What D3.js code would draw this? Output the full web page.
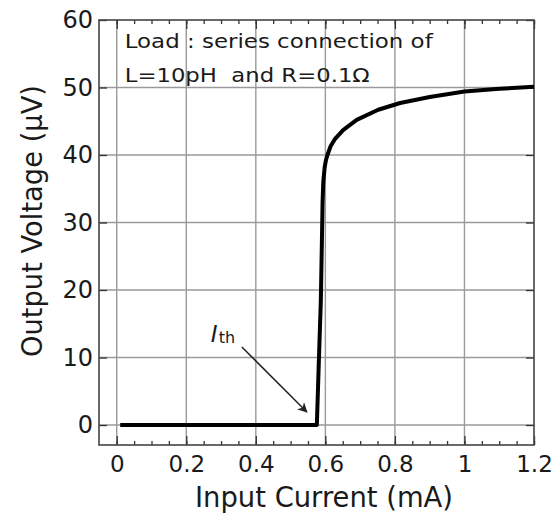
<!DOCTYPE html>
<html>
<head>
<meta charset="utf-8">
<script src="https://cdn.jsdelivr.net/npm/d3@7"></script>
<style>
  html, body { margin: 0; padding: 0; background: #fff; }
  svg { display: block; }
  text { font-family: "DejaVu Sans", "Noto Sans", sans-serif; fill: #1a1a1a; }
</style>
</head>
<body>
<svg id="chart" width="556" height="520"></svg>
<script>
// Measured output voltage vs. input current
const inputCurrent = [0.01, 0.1, 0.2, 0.3, 0.4, 0.5, 0.5755, 0.581, 0.587, 0.592, 0.594, 0.598, 0.602, 0.606, 0.615, 0.628, 0.651, 0.69, 0.752, 0.815, 0.9, 1.0, 1.1, 1.2];
const outputVoltage = [0, 0, 0, 0, 0, 0, 0, 9, 18.5, 33, 36, 38.2, 39.3, 40, 41.3, 42.4, 43.7, 45.2, 46.7, 47.7, 48.6, 49.4, 49.8, 50.1];

const xTicks = [0, 0.2, 0.4, 0.6, 0.8, 1, 1.2];
const xTickLabels = ["0", "0.2", "0.4", "0.6", "0.8", "1", "1.2"];
const yTicks = [0, 10, 20, 30, 40, 50, 60];
const xMinorTicks = d3.range(0, 1.2001, 0.05);

const noteLines = ["Load : series connection of", "L=10pH  and R=0.1\u03A9"];
const thresholdCurrent = 0.5755;

const svg = d3.select("#chart");
const margin = { left: 99, top: 20, right: 22, bottom: 75 };
const W = 556, H = 520;
const pw = W - margin.left - margin.right;
const ph = H - margin.top - margin.bottom;

const x = d3.scaleLinear().domain([-0.051, 1.2]).range([margin.left, margin.left + pw]);
const y = d3.scaleLinear().domain([-2.96, 60]).range([margin.top + ph, margin.top]);

// grid
const grid = svg.append("g").attr("stroke", "#9a9a9a").attr("stroke-width", 1.4);
grid.selectAll("line.v").data(xTicks.filter(d => d < 1.2)).join("line")
  .attr("x1", d => x(d)).attr("x2", d => x(d))
  .attr("y1", margin.top).attr("y2", margin.top + ph);
grid.selectAll("line.h").data(yTicks.filter(d => d < 60)).join("line")
  .attr("y1", d => y(d)).attr("y2", d => y(d))
  .attr("x1", margin.left).attr("x2", margin.left + pw);

// axes with inward ticks
function styleAxis(g) {
  g.select(".domain").remove();
  g.selectAll(".tick line").attr("stroke", "#333").attr("stroke-width", 1.3);
}
const bottomY = margin.top + ph;
svg.append("g").attr("transform", `translate(0,${bottomY})`)
  .call(d3.axisBottom(x).tickValues(xMinorTicks).tickSize(-4).tickFormat(""))
  .call(styleAxis);
svg.append("g").attr("transform", `translate(0,${bottomY})`)
  .call(d3.axisBottom(x).tickValues(xTicks).tickSize(-9).tickPadding(11)
    .tickFormat((d, i) => xTickLabels[i]))
  .call(styleAxis)
  .call(g => g.selectAll("text").attr("font-size", 23).attr("fill", "#1a1a1a"));
svg.append("g").attr("transform", `translate(0,${margin.top})`)
  .call(d3.axisTop(x).tickValues(xMinorTicks).tickSize(-4).tickFormat(""))
  .call(styleAxis);
svg.append("g").attr("transform", `translate(0,${margin.top})`)
  .call(d3.axisTop(x).tickValues(xTicks).tickSize(-9).tickFormat(""))
  .call(styleAxis);
svg.append("g").attr("transform", `translate(${margin.left},0)`)
  .call(d3.axisLeft(y).tickValues(yTicks).tickSize(-8).tickPadding(6))
  .call(styleAxis)
  .call(g => g.selectAll("text").attr("font-size", 24).attr("fill", "#1a1a1a"));
svg.append("g").attr("transform", `translate(${margin.left + pw},0)`)
  .call(d3.axisRight(y).tickValues(yTicks).tickSize(-8).tickFormat(""))
  .call(styleAxis);

// frame
svg.append("rect").attr("x", margin.left).attr("y", margin.top)
  .attr("width", pw).attr("height", ph)
  .attr("fill", "none").attr("stroke", "#444").attr("stroke-width", 1.6);

// curve
const pts = inputCurrent.map((c, i) => [c, outputVoltage[i]]);
svg.append("path").datum(pts)
  .attr("fill", "none").attr("stroke", "#000").attr("stroke-width", 4)
  .attr("stroke-linejoin", "round")
  .attr("d", d3.line().x(d => x(d[0])).y(d => y(d[1])));

// note
const noteWidths = [308, 245];
svg.append("g").selectAll("text").data(noteLines).join("text")
  .attr("x", x(0) + 8).attr("y", (d, i) => 48 + i * 34)
  .attr("font-size", 20).attr("xml:space", "preserve").style("white-space", "pre")
  .attr("textLength", (d, i) => noteWidths[i]).attr("lengthAdjust", "spacingAndGlyphs")
  .text(d => d);

// threshold annotation
svg.append("defs").append("marker").attr("id", "arrow")
  .attr("viewBox", "0 0 10 10").attr("refX", 9).attr("refY", 5)
  .attr("markerWidth", 12).attr("markerHeight", 10).attr("markerUnits", "userSpaceOnUse")
  .attr("orient", "auto")
  .append("path").attr("d", "M0,0 L10,5 L0,10 L3,5 Z").attr("fill", "#222");
svg.append("line")
  .attr("x1", x(thresholdCurrent) - 75).attr("y1", y(0) - 78)
  .attr("x2", x(thresholdCurrent) - 10).attr("y2", y(0) - 13)
  .attr("stroke", "#222").attr("stroke-width", 1.5)
  .attr("marker-end", "url(#arrow)");
const lbl = svg.append("text").attr("x", x(thresholdCurrent) - 106).attr("y", 342);
lbl.append("tspan").attr("font-size", 23).attr("font-style", "italic").text("I");
lbl.append("tspan").attr("font-size", 16).attr("dx", 1).attr("dy", 1).text("th");

// axis titles
svg.append("text").attr("x", 195).attr("y", 507)
  .attr("font-size", 28).attr("textLength", 258).attr("lengthAdjust", "spacingAndGlyphs")
  .text("Input Current (mA)");
svg.append("text")
  .attr("transform", `translate(42,357) rotate(-90)`)
  .attr("font-size", 28).attr("textLength", 272).attr("lengthAdjust", "spacingAndGlyphs")
  .text("Output Voltage (\u03BCV)");
</script>
</body>
</html>
